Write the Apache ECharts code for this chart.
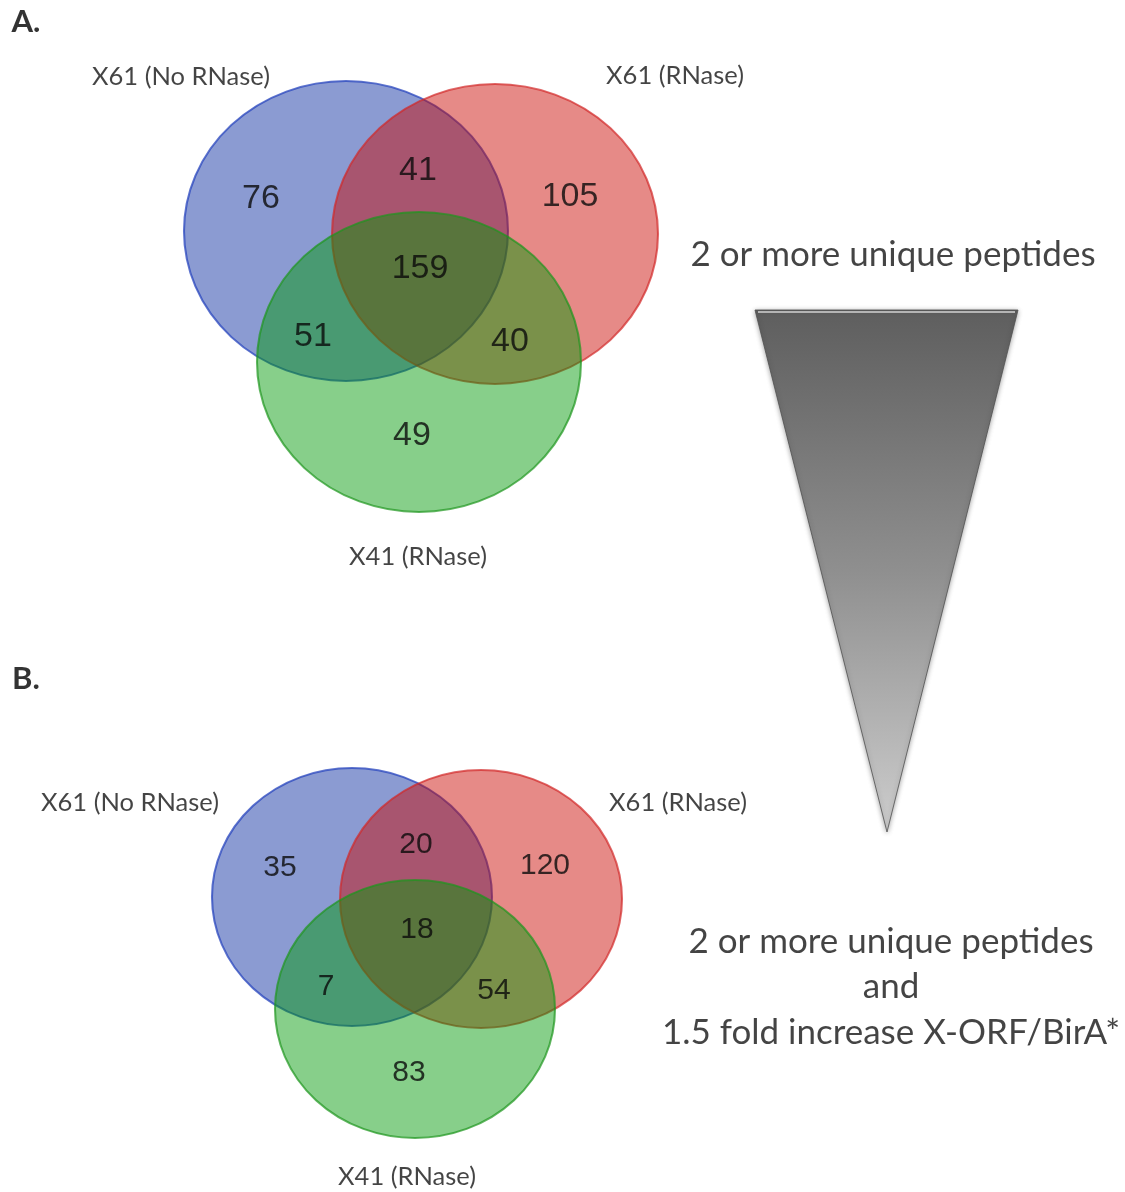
<!DOCTYPE html>
<html>
<head>
<meta charset="utf-8">
<script src="https://cdn.jsdelivr.net/npm/echarts@6/dist/echarts.min.js"></script>
<style>
  html, body { margin: 0; padding: 0; background: #ffffff; }
  #chart { width: 1125px; height: 1192px; }
</style>
</head>
<body>
<div id="chart"></div>
<script>
// ---- Data ----
// Three sets compared in each panel
const setNames = ['X61 (No RNase)', 'X61 (RNase)', 'X41 (RNase)'];
// Region order: set1 only, set1∩set2, set2 only, all three, set1∩set3, set2∩set3, set3 only
const regionNames = ['X61 No RNase only', 'X61 No RNase ∩ X61 RNase', 'X61 RNase only',
  'all three', 'X61 No RNase ∩ X41', 'X61 RNase ∩ X41', 'X41 only'];
const countsA = [76, 41, 105, 159, 51, 40, 49];
const countsB = [35, 20, 120, 18, 7, 54, 83];
const panelLetters = ['A.', 'B.'];
const criteriaA = ['2 or more unique peptides'];
const criteriaB = ['2 or more unique peptides', 'and', '1.5 fold increase X-ORF/BirA*'];

// ---- Layout (canvas pixels, y grows downward) ----
const layout = {
  A: {
    letter: [26, 22],
    circles: [[346, 231, 162, 150], [495, 234, 163, 150], [419, 362, 162, 150]],
    setLabels: [[181, 77], [675, 76], [418, 557]],
    regions: [[261, 199], [418, 171], [570, 197], [420, 269], [313, 337], [510, 342], [412, 436]],
    numberSize: 34,
    criteria: [[893, 255]]
  },
  B: {
    letter: [26, 679],
    circles: [[352, 897, 140, 129], [481, 899, 141, 129], [415, 1009, 140, 129]],
    setLabels: [[130, 803], [678, 803], [407, 1177]],
    regions: [[280, 868], [416, 845], [545, 866], [417, 930], [326, 987], [494, 991], [409, 1073]],
    numberSize: 30,
    criteria: [[891, 942], [891, 987], [891, 1033]]
  },
  wedge: [[755, 310], [1018, 310], [887, 832]]
};

const setStyles = [
  { fill: 'rgba(8, 42, 160, 0.47)', stroke: 'rgba(40, 70, 190, 0.75)' },
  { fill: 'rgba(202, 6, 0, 0.47)', stroke: 'rgba(210, 40, 40, 0.7)' },
  { fill: 'rgba(0, 152, 6, 0.47)', stroke: 'rgba(30, 150, 30, 0.7)' }
];

const labelFont = 'Lato, "Open Sans", sans-serif';
const numberFont = '"Liberation Sans", Arial, sans-serif';

function circleData(p) {
  return p.circles.map((c, i) => ({
    name: setNames[i],
    value: [c[0], c[1]],
    symbolSize: [c[2] * 2, c[3] * 2],
    itemStyle: {
      color: setStyles[i].fill,
      borderColor: setStyles[i].stroke,
      borderWidth: 2,
      opacity: 1
    }
  }));
}

function textSeries(points, texts, font) {
  return {
    type: 'scatter',
    silent: true,
    symbolSize: 1,
    itemStyle: { color: 'rgba(0,0,0,0)' },
    z: 5,
    data: points.map((pt, i) => ({ name: String(texts[i]), value: pt })),
    label: Object.assign({
      show: true,
      position: 'inside',
      formatter: (d) => d.name,
      color: '#111',
      align: 'center',
      verticalAlign: 'middle'
    }, font)
  };
}

const series = [];
[['A', countsA, criteriaA], ['B', countsB, criteriaB]].forEach(([key, counts, criteria], pi) => {
  const p = layout[key];
  series.push({
    type: 'scatter',
    silent: true,
    symbol: 'circle',
    z: 2,
    data: circleData(p)
  });
  series.push(textSeries(p.regions, counts, { fontFamily: numberFont, fontSize: p.numberSize, color: '#0a0a0a' }));
  series.push(textSeries(p.setLabels, setNames, { fontFamily: labelFont, fontSize: 25.5, color: '#151515' }));
  series.push(textSeries([p.letter], [panelLetters[pi]], { fontFamily: labelFont, fontSize: 31, fontWeight: 'bold', color: '#000' }));
  series.push(textSeries(p.criteria, criteria, { fontFamily: labelFont, fontSize: 35, color: '#151515' }));
});

const chart = echarts.init(document.getElementById('chart'), null, { renderer: 'canvas' });
chart.setOption({
  animation: false,
  backgroundColor: '#ffffff',
  grid: { left: 0, right: 0, top: 0, bottom: 0 },
  xAxis: { type: 'value', min: 0, max: 1125, show: false },
  yAxis: { type: 'value', min: 0, max: 1192, inverse: true, show: false },
  series: series,
  graphic: [
    {
      type: 'polygon',
      silent: true,
      shape: { points: layout.wedge },
      style: {
        fill: new echarts.graphic.LinearGradient(0, 0, 0, 1, [
          { offset: 0, color: '#5e5e5e' },
          { offset: 0.5, color: '#8f8f8f' },
          { offset: 1, color: '#cdcdcd' }
        ]),
        stroke: 'rgba(80,80,80,0.8)',
        lineWidth: 1,
        shadowBlur: 5,
        shadowColor: 'rgba(0,0,0,0.35)',
        shadowOffsetY: 1
      }
    },
    {
      type: 'line',
      silent: true,
      shape: { x1: layout.wedge[0][0] + 3, y1: layout.wedge[0][1] + 2, x2: layout.wedge[1][0] - 3, y2: layout.wedge[1][1] + 2 },
      style: { stroke: 'rgba(190,190,190,0.9)', lineWidth: 2 }
    }
  ]
});
</script>
</body>
</html>
